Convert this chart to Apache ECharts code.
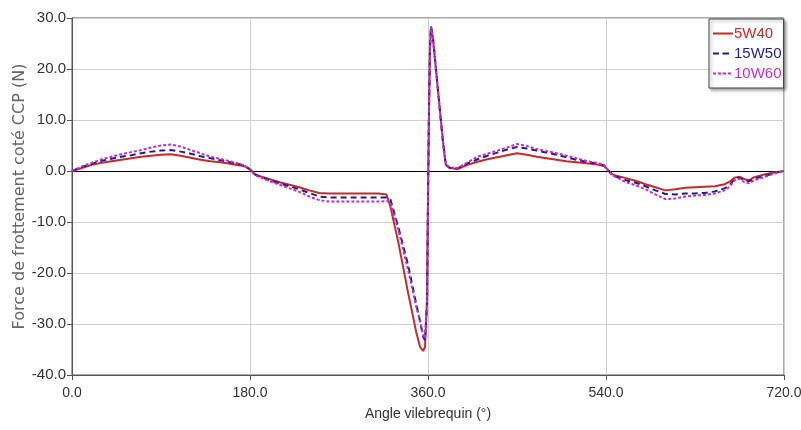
<!DOCTYPE html>
<html><head><meta charset="utf-8">
<script src="https://cdn.jsdelivr.net/npm/echarts@6/dist/echarts.min.js"></script>
<style>html,body{margin:0;padding:0;background:#fff}#c{width:801px;height:430px}</style>
</head><body><div id="c"></div>
<script>
const angles = [0,10,20,30,40,50,60,70,80,90,100,110,120,130,140,150,160,170,175,180,185,190,200,210,220,230,240,250,260,270,280,290,300,310,318,322,330,340,348,352,355,357,359,360,361,362,363,365,370,375,378,382,390,400,410,420,430,440,450,460,470,480,490,500,510,520,530,538,542,546,550,560,570,580,590,600,610,620,630,640,650,660,665,670,675,680,685,690,700,710,720];
const s5W40 = [0,0.6,1.2,1.6,1.9,2.2,2.5,2.8,3.0,3.2,3.3,3.0,2.6,2.2,1.9,1.7,1.4,1.1,0.9,0.3,-0.6,-1.0,-1.6,-2.2,-2.7,-3.2,-3.8,-4.3,-4.4,-4.4,-4.4,-4.4,-4.4,-4.4,-4.6,-7.0,-14,-24,-31.5,-34.5,-35.3,-34.5,-25,-5,12,24,28.2,26,16,6,1.2,0.6,0.4,1.2,1.8,2.3,2.7,3.1,3.5,3.2,2.8,2.5,2.2,1.9,1.7,1.5,1.3,1.0,0.2,-0.6,-0.9,-1.4,-1.9,-2.6,-3.2,-3.8,-3.6,-3.3,-3.2,-3.1,-3.0,-2.6,-2.1,-1.3,-1.1,-1.6,-1.8,-1.2,-0.7,-0.3,0];
const s15W50 = [0,0.8,1.4,2.0,2.4,2.8,3.1,3.5,3.8,4.0,4.1,3.8,3.4,2.9,2.5,2.1,1.7,1.3,1.0,0.3,-0.7,-1.1,-1.8,-2.4,-3.0,-3.6,-4.3,-5.0,-5.2,-5.2,-5.2,-5.2,-5.2,-5.2,-5.2,-5.6,-11,-18.5,-26,-29.5,-32.5,-33.2,-26,-6,12,24,28.4,26.2,16,6,1.2,0.6,0.5,1.5,2.3,3.0,3.6,4.2,4.7,4.4,4.0,3.6,3.2,2.7,2.2,1.8,1.5,1.1,0.2,-0.7,-1.1,-1.8,-2.3,-3.0,-3.8,-4.5,-4.6,-4.4,-4.4,-4.3,-4.0,-3.4,-2.8,-1.6,-1.3,-1.8,-2.0,-1.5,-1.0,-0.4,0];
const s10W60 = [0,0.9,1.6,2.3,2.8,3.3,3.7,4.1,4.6,5.0,5.2,4.8,4.1,3.5,2.8,2.4,1.9,1.4,1.0,0.3,-0.8,-1.2,-2.0,-2.7,-3.4,-4.1,-5.0,-5.7,-6.0,-6.0,-6.0,-6.0,-6.0,-6.0,-5.9,-6.2,-11.5,-19.5,-26.5,-29.5,-32,-32.8,-26,-6,12,24,28.2,26,16,6,1.3,0.7,0.6,1.7,2.8,3.4,4.0,4.6,5.3,4.9,4.3,3.9,3.5,3.0,2.5,2.0,1.6,1.2,0.2,-0.8,-1.2,-2.2,-2.8,-3.6,-4.6,-5.5,-5.4,-5.0,-4.8,-4.7,-4.4,-3.8,-3.1,-1.8,-1.5,-2.2,-2.4,-1.8,-1.2,-0.5,0];
const seriesNames = ['5W40','15W50','10W60'];
const xTicks = [0,180,360,540,720];
const yTicks = [-40,-30,-20,-10,0,10,20,30];

const colors = ['#c42b2b','#1f1f8c','#c030c8'];
const dashes = ['solid',[6,4],[3,2]];
const values = [s5W40,s15W50,s10W60];
const SANS = '"Liberation Sans",Arial,sans-serif';

const chart = echarts.init(document.getElementById('c'), null, {renderer:'canvas'});
const series = seriesNames.map((n,i)=>({
  name:n, type:'line', showSymbol:false, symbol:'none', smooth:false,
  data: angles.map((a,k)=>[a, values[i][k]]),
  lineStyle:{color:colors[i], width:2, type:dashes[i]},
  itemStyle:{color:colors[i]},
  z: 3+i
}));
series[0].markLine = {silent:true, symbol:'none', label:{show:false},
  lineStyle:{color:'#000', width:1, type:'solid'}, data:[{yAxis:0}], z:1};

chart.setOption({
  animation:false,
  backgroundColor:'#fff',
  grid:{left:72, right:17, top:18, bottom:55, containLabel:false, outerBoundsMode:'none',
    show:true, borderColor:'#555', borderWidth:1, backgroundColor:'transparent'},
  legend:{
    orient:'vertical', left:709, top:19, itemWidth:20, itemHeight:2, itemGap:5,
    padding:[7,2,7,3], backgroundColor:'#fff', borderColor:'#444', borderWidth:1,
    shadowColor:'rgba(0,0,0,0.35)', shadowBlur:3, shadowOffsetX:2, shadowOffsetY:2,
    textStyle:{fontFamily:SANS, fontSize:15, padding:[0,0,0,-4]},
    data: seriesNames.map((n,i)=>({name:n, textStyle:{color:colors[i]}}))
  },
  xAxis:{
    type:'value', min:0, max:720, interval:180,
    name:'Angle vilebrequin (°)', nameLocation:'middle', nameGap:32, nameMoveOverlap:false,
    nameTextStyle:{fontFamily:SANS, fontSize:14, color:'#333'},
    axisLine:{onZero:false, lineStyle:{color:'#555', width:1}},
    axisTick:{show:true, length:5, lineStyle:{color:'#555'}},
    axisLabel:{fontFamily:SANS, fontSize:14, color:'#333', margin:11, formatter:v=>v.toFixed(1)},
    splitLine:{show:true, lineStyle:{color:'#cfcfcf', width:1}}
  },
  yAxis:{
    type:'value', min:-40, max:30, interval:10,
    name:'Force de frottement coté CCP (N)', nameLocation:'middle', nameGap:44, nameMoveOverlap:false,
    nameTextStyle:{fontFamily:'"DejaVu Sans",sans-serif', fontSize:16, color:'#666'},
    axisLine:{show:true, lineStyle:{color:'#555', width:1}},
    axisTick:{show:true, length:5, lineStyle:{color:'#555'}},
    axisLabel:{fontFamily:SANS, fontSize:15, color:'#333', margin:6, formatter:v=>v.toFixed(1)},
    splitLine:{show:true, lineStyle:{color:'#cfcfcf', width:1}}
  },
  series: series
});
</script></body></html>
